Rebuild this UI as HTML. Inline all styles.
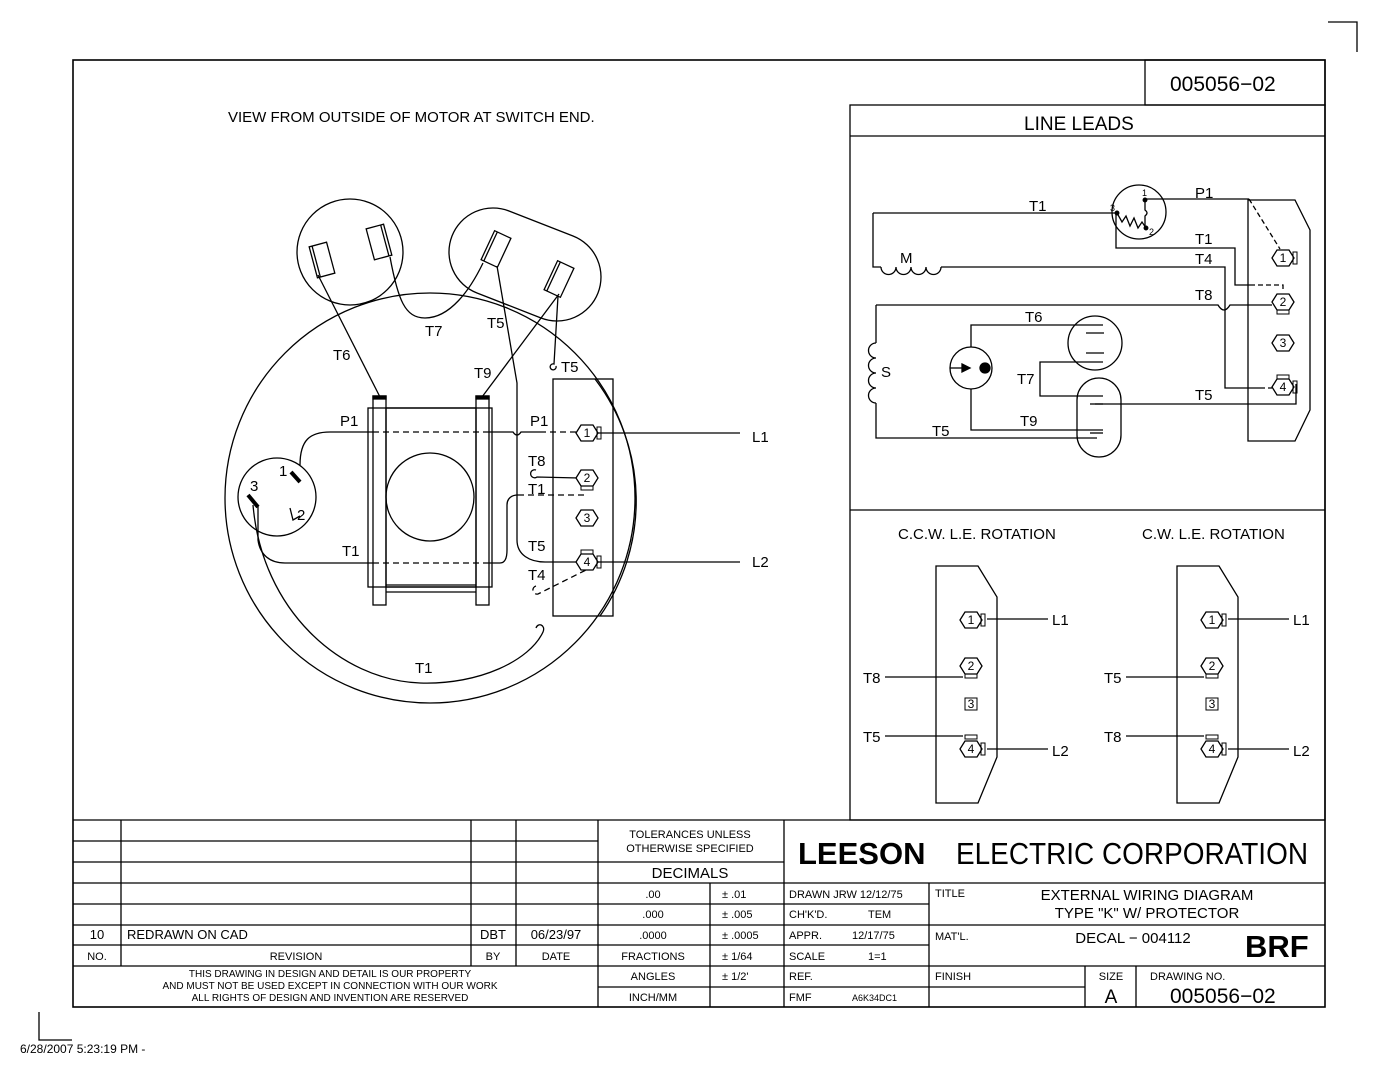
<!DOCTYPE html>
<html><head><meta charset="utf-8"><style>
html,body{margin:0;padding:0;background:#fff;}
svg{display:block;}
text{font-family:"Liberation Sans",sans-serif;fill:#000;}
</style></head><body>
<svg width="1398" height="1080" viewBox="0 0 1398 1080" xmlns="http://www.w3.org/2000/svg">
<defs>
<g id="hex"><polygon points="-11,0 -6,-8 6,-8 11,0 6,8 -6,8" fill="#fff" stroke="#000" stroke-width="1.3"/></g>
</defs>
<g fill="none" stroke="#000" stroke-width="1.3">
<polyline points="1328,22 1357,22 1357,52"/>
<polyline points="39,1012 39,1040 72,1040"/>
<rect x="73" y="60" width="1252" height="947" stroke-width="1.6"/>
<rect x="1145" y="60" width="180" height="45"/>
<rect x="850" y="105" width="475" height="715"/>
<line x1="850" y1="136" x2="1325" y2="136"/>
<line x1="850" y1="510" x2="1325" y2="510"/>

<line x1="73" y1="820" x2="1325" y2="820"/>
<line x1="73" y1="841" x2="598" y2="841"/>
<line x1="73" y1="862" x2="598" y2="862"/>
<line x1="598" y1="862" x2="784" y2="862"/>
<line x1="73" y1="883" x2="1325" y2="883"/>
<line x1="73" y1="904" x2="929" y2="904"/>
<line x1="73" y1="925" x2="1325" y2="925"/>
<line x1="73" y1="945" x2="929" y2="945"/>
<line x1="73" y1="966" x2="1325" y2="966"/>
<line x1="598" y1="987" x2="929" y2="987"/>
<line x1="929" y1="987" x2="1085" y2="987"/>
<line x1="121" y1="820" x2="121" y2="966"/>
<line x1="471" y1="820" x2="471" y2="966"/>
<line x1="516" y1="820" x2="516" y2="966"/>
<line x1="598" y1="820" x2="598" y2="1007"/>
<line x1="710" y1="883" x2="710" y2="1007"/>
<line x1="784" y1="820" x2="784" y2="1007"/>
<line x1="929" y1="883" x2="929" y2="1007"/>
<line x1="1085" y1="966" x2="1085" y2="1007"/>
<line x1="1136" y1="966" x2="1136" y2="1007"/>

<!-- main motor view -->
<circle cx="430" cy="498" r="205"/>
<circle cx="350" cy="252" r="53"/>
<path d="M 509,211 L 573,236 A 44 44 0 0 1 541,318 L 477,293 A 44 44 0 0 1 509,211 Z"/>
<g transform="translate(322,260) rotate(-15)"><rect x="-9" y="-16" width="18" height="32"/><line x1="-6" y1="-16" x2="-6" y2="16"/></g>
<g transform="translate(379,242) rotate(-15)"><rect x="-9" y="-16" width="18" height="32"/><line x1="6" y1="-16" x2="6" y2="16"/></g>
<g transform="translate(496,249) rotate(25)"><rect x="-9" y="-16" width="18" height="32"/><line x1="-6" y1="-16" x2="-6" y2="16"/></g>
<g transform="translate(559,279) rotate(25)"><rect x="-9" y="-16" width="18" height="32"/><line x1="-6" y1="-16" x2="-6" y2="16"/></g>
<line x1="318" y1="275" x2="380" y2="397"/>
<path d="M 390,257 C 398,300 405,318 425,318 C 450,318 470,290 483,263"/>
<path d="M 497,266 L 517,383 L 517,540 C 517,555 530,562 545,562 L 580,562"/>
<path d="M 559,294 L 482,397"/>
<path d="M 558,296 L 554,364 A 3 3 0 1 0 556,366"/>
<rect x="368" y="408" width="124" height="179"/>
<rect x="386" y="408" width="90" height="179"/>
<rect x="373" y="396" width="13" height="209"/>
<rect x="476" y="396" width="13" height="209"/>
<rect x="373" y="396" width="13" height="3" fill="#000"/>
<rect x="476" y="396" width="13" height="3" fill="#000"/>
<line x1="386" y1="585" x2="476" y2="585"/>
<line x1="386" y1="592" x2="476" y2="592"/>
<circle cx="430" cy="497" r="44"/>
<circle cx="277" cy="497" r="39"/>
<line x1="291" y1="472" x2="300" y2="482" stroke-width="4"/>
<line x1="248" y1="495" x2="258" y2="507" stroke-width="4"/>
<path d="M 290,508 L 293,520 L 300,516"/>
<path d="M 300,465 C 300,440 310,432 330,432 L 373,432"/>
<line x1="373" y1="432" x2="488" y2="432" stroke-dasharray="6,4"/>
<path d="M 488,432 L 513,432 Q 517,438 521,432 L 540,432"/>
<line x1="540" y1="432" x2="577" y2="432" stroke-dasharray="6,4"/>
<path d="M 258,505 L 258,540 C 260,555 270,563 285,563 L 373,563"/>
<line x1="373" y1="563" x2="488" y2="563" stroke-dasharray="6,4"/>
<path d="M 488,563 L 500,563 C 505,563 507,558 507,550 L 507,505 C 507,498 512,495 518,495"/>
<line x1="518" y1="495" x2="585" y2="495" stroke-dasharray="6,4"/>
<path d="M 253,505 C 262,610 340,680 420,683 C 480,685 530,660 543,632 C 546,625 538,622 536,628"/>
<path d="M 536,470 A 4 4 0 1 0 537,477 L 579,478"/>
<path d="M 536,586 A 4 4 0 1 0 538,594 L 586,570" stroke-dasharray="6,4"/>
<!-- terminal board -->
<rect x="553" y="379" width="60" height="237"/>
<path d="M 595,379 A 201 201 0 0 1 600,616"/>
<line x1="596" y1="433" x2="740" y2="433"/>
<line x1="596" y1="562" x2="740" y2="562"/>
</g>
<g font-size="12" text-anchor="middle">
<use href="#hex" x="587" y="433"/><text x="587" y="437">1</text><rect x="597" y="427" width="4" height="12" fill="none" stroke="#000"/>
<use href="#hex" x="587" y="478"/><text x="587" y="482">2</text><rect x="581" y="486" width="12" height="4" fill="none" stroke="#000"/>
<use href="#hex" x="587" y="518"/><text x="587" y="522">3</text>
<use href="#hex" x="587" y="562"/><text x="587" y="566">4</text><rect x="581" y="550" width="12" height="4" fill="none" stroke="#000"/><rect x="597" y="556" width="4" height="12" fill="none" stroke="#000"/>
</g>
<g font-size="15">
<text x="228" y="122">VIEW FROM OUTSIDE OF MOTOR AT SWITCH END.</text>
<text x="333" y="360">T6</text>
<text x="425" y="336">T7</text>
<text x="487" y="328">T5</text>
<text x="474" y="378">T9</text>
<text x="561" y="372">T5</text>
<text x="340" y="426">P1</text>
<text x="530" y="426">P1</text>
<text x="528" y="466">T8</text>
<text x="528" y="494">T1</text>
<text x="528" y="551">T5</text>
<text x="528" y="580">T4</text>
<text x="342" y="556">T1</text>
<text x="415" y="673">T1</text>
<text x="279" y="476">1</text>
<text x="297" y="520">2</text>
<text x="250" y="491">3</text>
<text x="752" y="442">L1</text>
<text x="752" y="567">L2</text>
</g>

<!-- LINE LEADS -->
<g fill="none" stroke="#000" stroke-width="1.3">
<circle cx="1139" cy="212" r="27"/>
<circle cx="1145" cy="200" r="1.8" fill="#000"/>
<circle cx="1146" cy="228" r="1.8" fill="#000"/>
<circle cx="1117" cy="213" r="1.8" fill="#000"/>
<path d="M 1145,200 L 1145,210 Q 1149,213 1145,216 L 1145,228"/>
<path d="M 1117,213 L 1122,222 L 1126,216 L 1130,226 L 1134,218 L 1138,228 L 1142,222 L 1146,228"/>
<path d="M 873,213 L 1117,213"/>
<path d="M 873,213 L 873,267 L 881,267"/>
<path d="M 881,267 a 7 7 0 0 0 15,0 a 7 7 0 0 0 15,0 a 7 7 0 0 0 15,0 a 7 7 0 0 0 15,0"/>
<path d="M 941,267 L 1225,267 L 1225,388 L 1260,388"/>
<line x1="1260" y1="388" x2="1272" y2="388" stroke-dasharray="5,3"/>
<path d="M 1116,213 L 1116,248 L 1235,248 L 1235,285 L 1250,285"/>
<path d="M 1250,285 L 1283,285 L 1283,292" stroke-dasharray="5,3"/>
<path d="M 1145,199 L 1249,199"/>
<line x1="1249" y1="199" x2="1280" y2="249" stroke-dasharray="5,3"/>
<path d="M 1248,200 L 1295,200 L 1310,230 L 1310,410 L 1295,441 L 1248,441 Z"/>
<path d="M 876,305 L 1218,305 Q 1224,315 1230,305 L 1272,305"/>
<path d="M 876,305 L 876,343"/>
<path d="M 876,343 a 7 7 0 0 0 0,15 a 7 7 0 0 0 0,15 a 7 7 0 0 0 0,15 a 7 7 0 0 0 0,15"/>
<path d="M 876,403 L 876,438 L 1097,438"/>
<circle cx="971" cy="368" r="21"/>
<circle cx="985" cy="368" r="5" fill="#000"/>
<line x1="950" y1="368" x2="962" y2="368"/>
<polygon points="962,364 970,368 962,372" fill="#000"/>
<path d="M 971,347 L 971,325 L 1103,325"/>
<path d="M 971,389 L 971,430 L 1103,430"/>
<circle cx="1095" cy="343" r="27"/>
<line x1="1086" y1="333" x2="1104" y2="333"/>
<line x1="1086" y1="353" x2="1104" y2="353"/>
<path d="M 1077,400 A 22 22 0 0 1 1121,400 L 1121,435 A 22 22 0 0 1 1077,435 Z"/>
<path d="M 1103,362 L 1040,362 L 1040,396 L 1103,396"/>
<line x1="1090" y1="404" x2="1103" y2="404"/>
<line x1="1090" y1="433" x2="1103" y2="433"/>
<path d="M 1095,404 L 1296,404 L 1296,384"/>
</g>
<g font-size="12" text-anchor="middle">
<use href="#hex" x="1283" y="258"/><text x="1283" y="262">1</text><rect x="1293" y="252" width="4" height="12" fill="none" stroke="#000"/>
<use href="#hex" x="1283" y="302"/><text x="1283" y="306">2</text><rect x="1277" y="310" width="12" height="4" fill="none" stroke="#000"/>
<use href="#hex" x="1283" y="343"/><text x="1283" y="347">3</text>
<use href="#hex" x="1283" y="387"/><text x="1283" y="391">4</text><rect x="1277" y="375" width="12" height="4" fill="none" stroke="#000"/><rect x="1293" y="381" width="4" height="12" fill="none" stroke="#000"/>
</g>
<g font-size="9"><text x="1142" y="196">1</text><text x="1110" y="211">3</text><text x="1149" y="235">2</text></g>
<g font-size="15">
<text x="1029" y="211">T1</text>
<text x="1195" y="198">P1</text>
<text x="1195" y="244">T1</text>
<text x="1195" y="264">T4</text>
<text x="1195" y="300">T8</text>
<text x="1025" y="322">T6</text>
<text x="1017" y="384">T7</text>
<text x="1020" y="426">T9</text>
<text x="932" y="436">T5</text>
<text x="1195" y="400">T5</text>
<text x="900" y="263">M</text>
<text x="881" y="377">S</text>
</g>

<g id="rot" fill="none" stroke="#000" stroke-width="1.3">
<path d="M 936,566 L 978,566 L 997,597 L 997,757 L 978,803 L 936,803 Z"/>
<line x1="987" y1="619" x2="1048" y2="619"/>
<line x1="885" y1="677" x2="963" y2="677"/>
<line x1="885" y1="736" x2="963" y2="736"/>
<line x1="987" y1="749" x2="1048" y2="749"/>
</g>
<use href="#rot" x="241"/>
<g font-size="12" text-anchor="middle">
<use href="#hex" x="971" y="620"/><text x="971" y="624">1</text><rect x="981" y="614" width="4" height="12" fill="none" stroke="#000"/>
<use href="#hex" x="971" y="666"/><text x="971" y="670">2</text><rect x="965" y="674" width="12" height="4" fill="none" stroke="#000"/>
<rect x="965" y="698" width="12" height="12" fill="none" stroke="#000"/><text x="971" y="708">3</text>
<use href="#hex" x="971" y="749"/><text x="971" y="753">4</text><rect x="965" y="735" width="12" height="4" fill="none" stroke="#000"/><rect x="981" y="743" width="4" height="12" fill="none" stroke="#000"/>
<use href="#hex" x="1212" y="620"/><text x="1212" y="624">1</text><rect x="1222" y="614" width="4" height="12" fill="none" stroke="#000"/>
<use href="#hex" x="1212" y="666"/><text x="1212" y="670">2</text><rect x="1206" y="674" width="12" height="4" fill="none" stroke="#000"/>
<rect x="1206" y="698" width="12" height="12" fill="none" stroke="#000"/><text x="1212" y="708">3</text>
<use href="#hex" x="1212" y="749"/><text x="1212" y="753">4</text><rect x="1206" y="735" width="12" height="4" fill="none" stroke="#000"/><rect x="1222" y="743" width="4" height="12" fill="none" stroke="#000"/>
</g>
<g font-size="15">
<text x="898" y="539">C.C.W. L.E. ROTATION</text>
<text x="1142" y="539">C.W. L.E. ROTATION</text>
<text x="1052" y="625">L1</text><text x="1052" y="756">L2</text>
<text x="863" y="683">T8</text><text x="863" y="742">T5</text>
<text x="1293" y="625">L1</text><text x="1293" y="756">L2</text>
<text x="1104" y="683">T5</text><text x="1104" y="742">T8</text>
</g>

<text x="1170" y="91" font-size="21">005056−02</text>
<text x="1024" y="130" font-size="19">LINE LEADS</text>

<g font-size="11">
<text x="690" y="838" text-anchor="middle">TOLERANCES UNLESS</text>
<text x="690" y="852" text-anchor="middle">OTHERWISE SPECIFIED</text>
<text x="690" y="878" text-anchor="middle" font-size="15">DECIMALS</text>
<text x="653" y="898" text-anchor="middle">.00</text><text x="722" y="898">± .01</text>
<text x="653" y="918" text-anchor="middle">.000</text><text x="722" y="918">± .005</text>
<text x="653" y="939" text-anchor="middle">.0000</text><text x="722" y="939">± .0005</text>
<text x="653" y="960" text-anchor="middle">FRACTIONS</text><text x="722" y="960">± 1/64</text>
<text x="653" y="980" text-anchor="middle">ANGLES</text><text x="722" y="980">± 1/2'</text>
<text x="653" y="1001" text-anchor="middle">INCH/MM</text>
<text x="789" y="898">DRAWN  JRW  12/12/75</text>
<text x="789" y="918">CH'K'D.</text><text x="868" y="918">TEM</text>
<text x="789" y="939">APPR.</text><text x="852" y="939">12/17/75</text>
<text x="789" y="960">SCALE</text><text x="868" y="960">1=1</text>
<text x="789" y="980">REF.</text>
<text x="789" y="1001">FMF</text><text x="852" y="1001" font-size="9">A6K34DC1</text>
<text x="935" y="897">TITLE</text>
<text x="935" y="940">MAT'L.</text>
<text x="935" y="980">FINISH</text>
<text x="1111" y="980" text-anchor="middle">SIZE</text>
<text x="1150" y="980">DRAWING NO.</text>
<text x="97" y="939" text-anchor="middle" font-size="13">10</text>
<text x="127" y="939" font-size="13">REDRAWN ON CAD</text>
<text x="493" y="939" text-anchor="middle" font-size="13">DBT</text>
<text x="556" y="939" text-anchor="middle" font-size="13">06/23/97</text>
<text x="97" y="960" text-anchor="middle">NO.</text>
<text x="296" y="960" text-anchor="middle">REVISION</text>
<text x="493" y="960" text-anchor="middle">BY</text>
<text x="556" y="960" text-anchor="middle">DATE</text>
<text x="330" y="977" text-anchor="middle" font-size="10">THIS DRAWING IN DESIGN AND DETAIL IS OUR PROPERTY</text>
<text x="330" y="989" text-anchor="middle" font-size="10">AND MUST NOT BE USED EXCEPT IN CONNECTION WITH OUR WORK</text>
<text x="330" y="1001" text-anchor="middle" font-size="10">ALL RIGHTS OF DESIGN AND INVENTION ARE RESERVED</text>
</g>
<text x="798" y="864" font-size="31" font-weight="bold">LEESON</text>
<text x="956" y="864" font-size="31" textLength="352" lengthAdjust="spacingAndGlyphs">ELECTRIC CORPORATION</text>
<text x="1147" y="900" font-size="15" text-anchor="middle">EXTERNAL WIRING DIAGRAM</text>
<text x="1147" y="918" font-size="15" text-anchor="middle">TYPE "K" W/ PROTECTOR</text>
<text x="1133" y="943" font-size="15" text-anchor="middle">DECAL − 004112</text>
<text x="1245" y="957" font-size="31" font-weight="bold">BRF</text>
<text x="1111" y="1003" font-size="19" text-anchor="middle">A</text>
<text x="1170" y="1003" font-size="21">005056−02</text>
<text x="20" y="1053" font-size="12">6/28/2007 5:23:19 PM -</text>
</svg>
</body></html>
